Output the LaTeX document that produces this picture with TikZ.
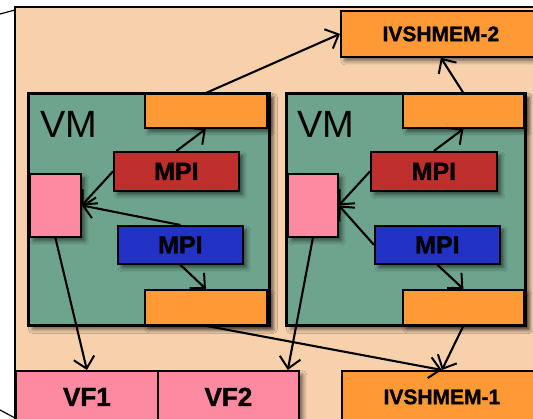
\documentclass[tikz,border=0pt]{standalone}
\usepackage{fontspec}
\setmainfont{Liberation Sans}
\newfontfamily\heavyfont[FakeBold=1.4]{Liberation Sans Bold}
\usetikzlibrary{positioning,shadows,shadows.blur,arrows.meta,calc}
\definecolor{HostPeach}{RGB}{246,209,172}
\definecolor{VmTeal}{RGB}{110,164,142}
\definecolor{ShmOrange}{RGB}{254,154,53}
\definecolor{MpiRed}{RGB}{190,47,45}
\definecolor{MpiBlue}{RGB}{34,50,198}
\definecolor{VfPink}{RGB}{254,138,161}
\tikzset{
  shade/.style={blur shadow={shadow xshift=4pt,shadow yshift=-4pt,
               shadow blur radius=4pt,shadow opacity=55}},
  vmbox/.style={draw=black,fill=VmTeal,line width=2.8pt,anchor=north west,
               inner sep=0pt,shade},
  obox/.style={draw=black,fill=ShmOrange,line width=1.8pt,anchor=north west,
               inner sep=0pt,shade,font=\heavyfont\fontsize{21}{21}\selectfont},
  rbox/.style={draw=black,fill=MpiRed,line width=1.8pt,anchor=north west,
               inner sep=0pt,shade,font=\heavyfont\fontsize{25}{25}\selectfont},
  bbox/.style={draw=black,fill=MpiBlue,line width=1.8pt,anchor=north west,
               inner sep=0pt,shade,font=\heavyfont\fontsize{25}{25}\selectfont},
  pkbox/.style={draw=black,fill=VfPink,line width=1.8pt,anchor=north west,
               inner sep=0pt,shade,font=\heavyfont\fontsize{26}{26}\selectfont},
  vmlabel/.style={anchor=base west,inner sep=0pt,font=\fontsize{38}{38}\selectfont},
  arr/.style={-{Straight Barb[length=11pt,width=21pt,line width=2pt]},line width=2.1pt},
}
\begin{document}
\begin{tikzpicture}[x=1pt,y=-1pt]
  \useasboundingbox (0,0) rectangle (533,419);
  % host
  \draw[line width=1.6pt,fill=HostPeach] (15,7) rectangle (560,440);
  \draw[line width=1.2pt] (0,14) -- (15,10);
  \draw[line width=1.2pt] (0,410) -- (15,418);
  % shared memory regions and virtual functions
  \node[obox,minimum width=200pt,minimum height=46pt] (ivs2) at (340,10) {IVSHMEM-2};
  \node[obox,minimum width=200pt,minimum height=52pt] (ivs1) at (341,370) {IVSHMEM-1};
  \node[pkbox,minimum width=142pt,minimum height=52pt] (vf1) at (15,370) {VF1};
  \node[pkbox,minimum width=141pt,minimum height=52pt] (vf2) at (157,370) {VF2};
  % first VM
  \node[vmbox,minimum width=241pt,minimum height=232pt] (vmA) at (27,92) {};
  \node[vmlabel] at (40,138) {VM};
  \node[obox,minimum width=122pt,minimum height=34pt] (topA) at (144,93) {};
  \node[obox,minimum width=122pt,minimum height=35pt] (botA) at (144,289) {};
  \node[rbox,minimum width=125pt,minimum height=39pt] (mpirA) at (113,151) {MPI};
  \node[bbox,minimum width=125pt,minimum height=38pt] (mpibA) at (117,225) {MPI};
  \node[pkbox,minimum width=51pt,minimum height=63pt] (pinkA) at (29,173) {};
  % second VM
  \node[vmbox,minimum width=239pt,minimum height=232pt] (vmB) at (285,92) {};
  \node[vmlabel] at (297,138) {VM};
  \node[obox,minimum width=121pt,minimum height=34pt] (topB) at (402,93) {};
  \node[obox,minimum width=121pt,minimum height=35pt] (botB) at (402,289) {};
  \node[rbox,minimum width=126pt,minimum height=39pt] (mpirB) at (370,151) {MPI};
  \node[bbox,minimum width=125pt,minimum height=38pt] (mpibB) at (374,225) {MPI};
  \node[pkbox,minimum width=50pt,minimum height=63pt] (pinkB) at (287,173) {};
  % connectors
  \draw[arr] (topA.north) -- (ivs2.west);
  \draw[arr] (topB.north) -- (ivs2.south);
  \draw[arr] (mpirA.north) -- (topA.south);
  \draw[arr] (mpirA.west) -- (pinkA.east);
  \draw[arr] (mpibA.north) -- (pinkA.east);
  \draw[arr] (mpibA.south) -- (botA.north);
  \draw[arr] (pinkA.south) -- (vf1.north);
  \draw[arr] (botA.south) -- (ivs1.north);
  \draw[arr] (mpirB.north) -- (topB.south);
  \draw[arr] (mpirB.west) -- (pinkB.east);
  \draw[arr] (mpibB.west) -- (pinkB.east);
  \draw[arr] (mpibB.south) -- (botB.north);
  \draw[arr] (pinkB.south) -- ($(vf2.north east)+(-12,0)$);
  \draw[arr] (botB.south) -- (ivs1.north);
\end{tikzpicture}
\end{document}
